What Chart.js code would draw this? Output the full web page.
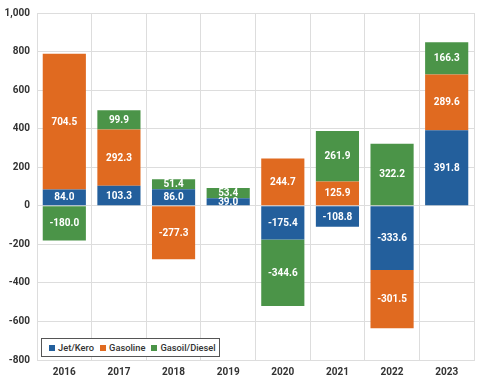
<!DOCTYPE html>
<html><head><meta charset="utf-8">
<script src="https://cdn.jsdelivr.net/npm/chart.js@4"></script>
<style>
html,body{margin:0;padding:0;background:#fff;}
#wrap{position:relative;width:482px;height:378px;}
#legend{position:absolute;left:41px;top:338px;height:19px;border:1.5px solid #555;background:#fff;
font-family:Roboto,"Noto Sans",sans-serif;font-size:9.3px;font-weight:500;color:#333;display:flex;align-items:center;padding-left:7px;padding-right:1px;box-sizing:border-box;white-space:nowrap;}
#legend span.i{display:inline-flex;align-items:center;margin-right:6px;}
#legend span.s{display:inline-block;width:6px;height:6px;margin-right:3px;}
</style></head>
<body><div id="wrap"><canvas id="c" width="482" height="378"></canvas><div id="legend"></div></div>
<script>
const categories = ["2016","2017","2018","2019","2020","2021","2022","2023"];
const jetKero = [84.0, 103.3, 86.0, 39.0, -175.4, -108.8, -333.6, 391.8];
const gasoline = [704.5, 292.3, -277.3, 0, 244.7, 125.9, -301.5, 289.6];
const gasoilDiesel = [-180.0, 99.9, 51.4, 53.4, -344.6, 261.9, 322.2, 166.3];
const seriesNames = ["Jet/Kero","Gasoline","Gasoil/Diesel"];
const colors = ["#235f9c","#e06a20","#4b9448"];
const yTicks = {min:-800, max:1000, step:200};

const labelPlugin = {
  id:'barLabels',
  afterDatasetsDraw(chart){
    const ctx = chart.ctx;
    ctx.save();
    ctx.font = 'bold 10px Roboto, "Noto Sans", sans-serif';
    ctx.fillStyle = '#fff';
    ctx.textAlign = 'center';
    ctx.textBaseline = 'middle';
    chart.data.datasets.forEach((ds, di) => {
      const meta = chart.getDatasetMeta(di);
      meta.data.forEach((el, i) => {
        const v = ds.data[i];
        if (!v) return;
        const p = el.getProps(['x','y','base'], true);
        ctx.fillText(v.toFixed(1), p.x, (p.y + p.base)/2 + 0.5);
      });
    });
    ctx.restore();
  }
};

const data = [jetKero, gasoline, gasoilDiesel];
new Chart(document.getElementById('c'), {
  type:'bar',
  data:{
    labels:categories,
    datasets: data.map((d,i)=>({label:seriesNames[i], data:d, backgroundColor:colors[i], borderWidth:0,
      barPercentage:0.79, categoryPercentage:1.0}))
  },
  options:{
    responsive:false, animation:false,
    layout:{padding:{top:8,right:8,left:0,bottom:0}},
    plugins:{legend:{display:false}, tooltip:{enabled:false}},
    scales:{
      x:{stacked:true,
        grid:{color:'#dddddd', lineWidth:1, offset:true, drawTicks:false},
        border:{color:'#dddddd'},
        ticks:{color:'#333', font:{family:'Roboto', size:10, weight:'bold'}, padding:6},
        afterFit(s){ s.height = 18; }
      },
      y:{stacked:true, min:yTicks.min, max:yTicks.max,
        grid:{color:'#dddddd', lineWidth:1, drawTicks:false},
        border:{color:'#dddddd'},
        ticks:{stepSize:yTicks.step, color:'#333', font:{family:'Roboto', size:10, weight:'bold'}, padding:7,
          callback:v=>v.toLocaleString('en-US')},
        afterFit(s){ s.width = 37; }
      }
    }
  },
  plugins:[labelPlugin]
});

const lg = document.getElementById('legend');
seriesNames.forEach((n,i)=>{
  const it = document.createElement('span'); it.className='i';
  if (i === seriesNames.length-1) it.style.marginRight = '2px';
  const sw = document.createElement('span'); sw.className='s'; sw.style.background=colors[i];
  it.appendChild(sw); it.appendChild(document.createTextNode(n)); lg.appendChild(it);
});
</script></body></html>
